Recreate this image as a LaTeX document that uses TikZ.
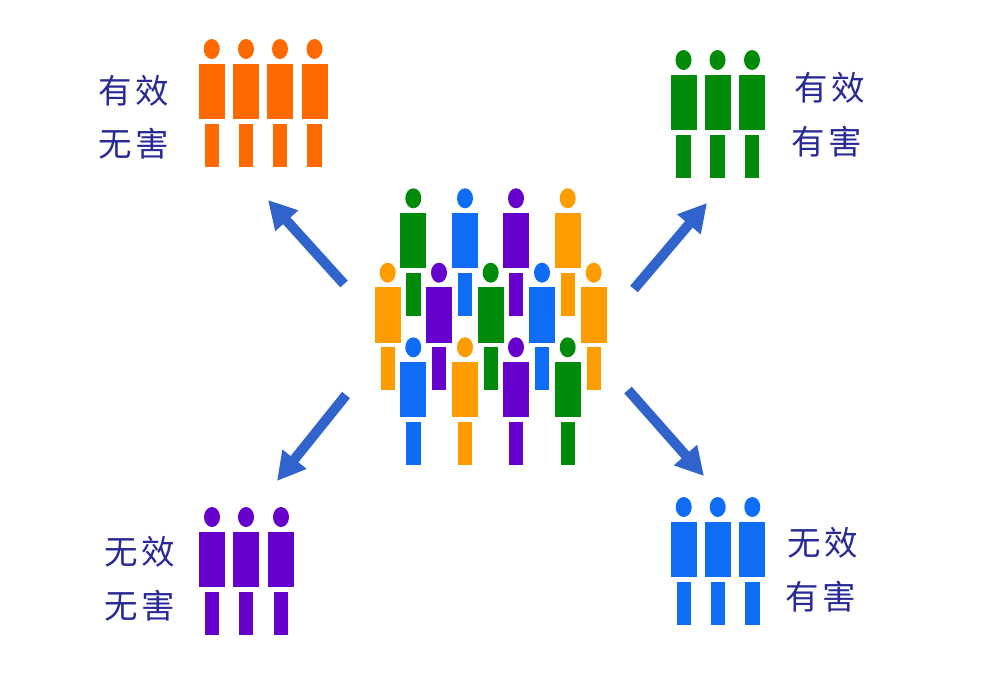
\documentclass[tikz,border=0pt]{standalone}
\usepackage{fontspec}
\newfontfamily\cjk{Noto Sans CJK SC}
\usetikzlibrary{arrows.meta}
\definecolor{cOrange}{HTML}{FF6A00}
\definecolor{cAmber}{HTML}{FF9C00}
\definecolor{cGreen}{HTML}{008C0A}
\definecolor{cPurple}{HTML}{6600CC}
\definecolor{cBlue}{HTML}{0F6DF5}
\definecolor{cArrow}{HTML}{3063CC}
\definecolor{cLabel}{HTML}{2A2A96}
\tikzset{
  label text/.style={text=cLabel,inner sep=0pt,font=\cjk\fontsize{33.5}{33.5}\selectfont},
  big arrow/.style={draw=cArrow,line width=10pt,-{Triangle[length=28pt,width=29pt]}}
}
% \humanfig: x, head y, colour
\newcommand\humanfig[3]{%
  \fill[#3] (#1,#2) ellipse [x radius=8,y radius=10];
  \fill[#3] (#1-13,#2+14.5) rectangle (#1+13,#2+70);
  \fill[#3] (#1-7.2,#2+74.5) rectangle (#1+7.2,#2+117.5);
}
\newcommand\twochars[2]{#1\hspace{3.5pt}#2}
\begin{document}
\begin{tikzpicture}[x=1pt,y=-1pt]
\useasboundingbox (0,0) rectangle (1000,675);
\fill[white] (0,0) rectangle (1000,675);
% top left
\foreach \px in {211.7,246,280,314.5} {\humanfig{\px}{49}{cOrange}}
% top right
\foreach \px in {683.5,717.5,752} {\humanfig{\px}{60}{cGreen}}
% bottom left
\foreach \px in {212,246,281} {\humanfig{\px}{517}{cPurple}}
% bottom right
\foreach \px in {683.7,717.7,752.3} {\humanfig{\px}{507}{cBlue}}
% crowd
\humanfig{413.3}{198.3}{cGreen}
\humanfig{465}{198.3}{cBlue}
\humanfig{516}{198.3}{cPurple}
\humanfig{567.7}{198.3}{cAmber}
\humanfig{387.7}{272.7}{cAmber}
\humanfig{439}{272.7}{cPurple}
\humanfig{490.7}{272.7}{cGreen}
\humanfig{542}{272.7}{cBlue}
\humanfig{593.7}{272.7}{cAmber}
\humanfig{413.3}{347.3}{cBlue}
\humanfig{465}{347.3}{cAmber}
\humanfig{516}{347.3}{cPurple}
\humanfig{567.7}{347.3}{cGreen}
% labels
\node[label text] (tl1) at (134,91) {\twochars{有}{效}};
\node[label text] (tl2) at (134,144) {\twochars{无}{害}};
\node[label text] (tr1) at (830,88) {\twochars{有}{效}};
\node[label text] (tr2) at (827,142) {\twochars{有}{害}};
\node[label text] (bl1) at (140,552) {\twochars{无}{效}};
\node[label text] (bl2) at (140,606) {\twochars{无}{害}};
\node[label text] (br1) at (823,543) {\twochars{无}{效}};
\node[label text] (br2) at (821,597) {\twochars{有}{害}};
% arrows
\coordinate (a1s) at (344,284); \coordinate (a1e) at (268,200);
\coordinate (a2s) at (634,289); \coordinate (a2e) at (707,203);
\coordinate (a3s) at (346,395); \coordinate (a3e) at (277,481);
\coordinate (a4s) at (628,390); \coordinate (a4e) at (704,476);
\draw[big arrow] (a1s) -- (a1e);
\draw[big arrow] (a2s) -- (a2e);
\draw[big arrow] (a3s) -- (a3e);
\draw[big arrow] (a4s) -- (a4e);
\end{tikzpicture}
\end{document}
